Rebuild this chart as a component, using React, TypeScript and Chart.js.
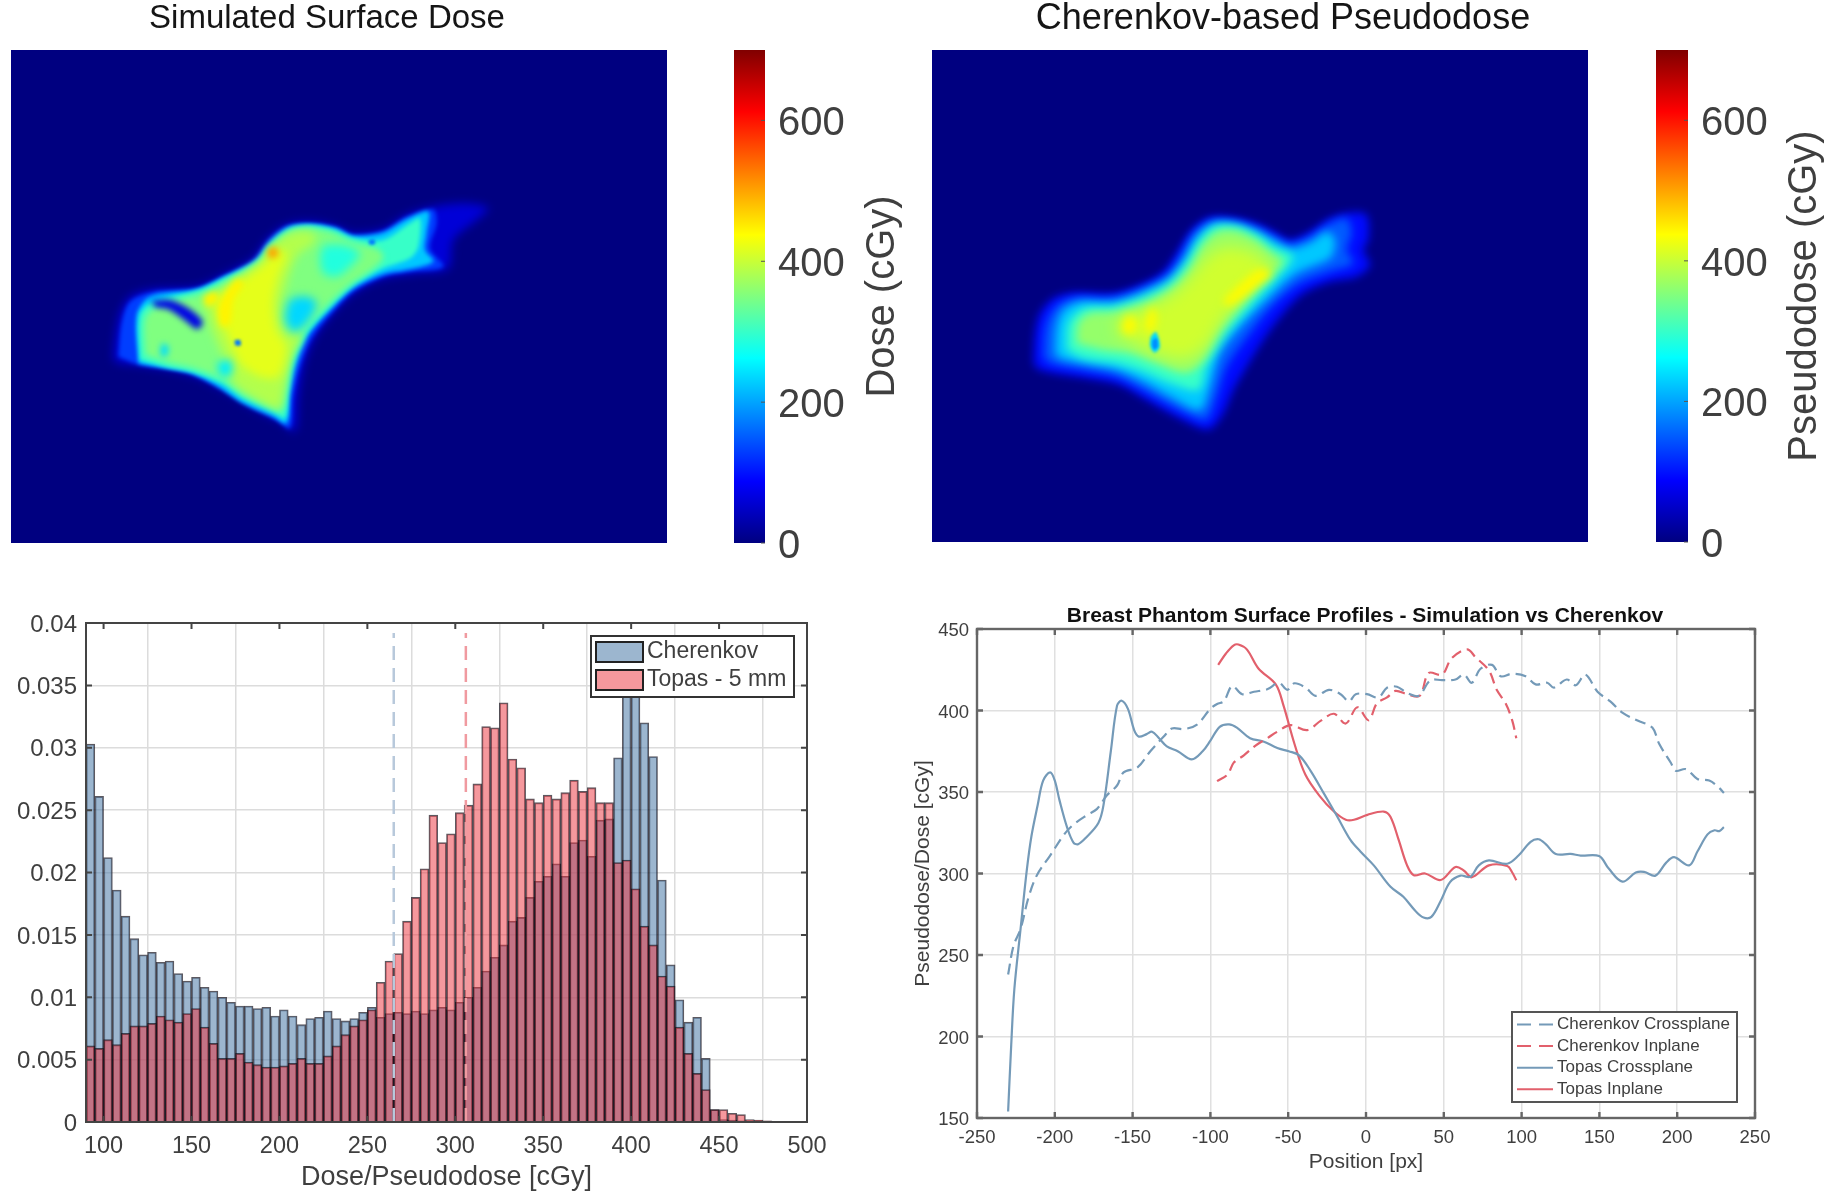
import React, { useEffect, useRef } from "react";
import { Chart, registerables } from "chart.js";

Chart.register(...registerables);

const FONT = "'Liberation Sans', Arial, sans-serif";
const TEXT = "#3f3f3f";

// ---------- histogram ----------
const binStart = 90;
const binWidth = 5;
const cherenkovHist = [
  0.0303, 0.0261, 0.0212, 0.0186, 0.0165, 0.0147, 0.0134, 0.0136, 0.0128, 0.0129, 0.0119, 0.0113, 0.0116, 0.0108,
  0.0105, 0.01, 0.0096, 0.0093, 0.0093, 0.0091, 0.0092, 0.0085, 0.009, 0.0085, 0.0078, 0.0083, 0.0084, 0.0089, 0.0083,
  0.0081, 0.0083, 0.0088, 0.0092, 0.0084, 0.0087, 0.0088, 0.0087, 0.0089, 0.0087, 0.009, 0.0092, 0.009, 0.0096, 0.01,
  0.0108, 0.0121, 0.0132, 0.0142, 0.0161, 0.0164, 0.018, 0.0193, 0.0197, 0.0207, 0.0197, 0.0224, 0.0226, 0.0213,
  0.0242, 0.0243, 0.0292, 0.0375, 0.036, 0.032, 0.0293, 0.0194, 0.0126, 0.0098, 0.008, 0.0084, 0.0051, 0.001, 0.0002,
  0.00015, 0.0001,
];
const topasHist = [
  0.0061, 0.0059, 0.0066, 0.0062, 0.0071, 0.0077, 0.0077, 0.0079, 0.0085, 0.0082, 0.008, 0.0087, 0.0091, 0.0076,
  0.0063, 0.0051, 0.0051, 0.0055, 0.0048, 0.0046, 0.0044, 0.0044, 0.0045, 0.0047, 0.0051, 0.0047, 0.0047, 0.0053,
  0.0061, 0.007, 0.0077, 0.0082, 0.009, 0.0112, 0.0129, 0.0135, 0.0161, 0.018, 0.0203, 0.0246, 0.0224, 0.0231, 0.0248,
  0.0254, 0.0271, 0.0317, 0.0316, 0.0336, 0.0291, 0.0284, 0.0259, 0.0256, 0.0262, 0.0259, 0.0264, 0.0274, 0.0265,
  0.0268, 0.0256, 0.0256, 0.0208, 0.021, 0.0187, 0.0157, 0.0142, 0.0117, 0.0109, 0.0076, 0.0055, 0.0039, 0.0026, 0.001,
  0.001, 0.0007, 0.0006, 0.0002, 0.00015, 0.0001, 0.00005,
];
const cherenkovMean = 265;
const topasMean = 306;
const meanLineTop = 0.0392;

// ---------- profiles: [position, value] ----------
const topasCross: number[][] = [
  [-230, 154], [-228, 195], [-226, 229], [-222, 266], [-218, 302], [-215, 323], [-211, 342], [-207.5, 357], [-203, 362],
  [-200, 357], [-197, 345], [-192, 328], [-188, 319], [-185, 318], [-180, 322], [-172, 331], [-168.7, 342], [-164, 375],
  [-160, 403], [-157, 406], [-153, 401], [-149, 388], [-146, 384], [-141, 385.5], [-137.5, 387], [-133, 383], [-128, 378],
  [-121, 375], [-112, 370], [-105, 375], [-100, 381.5], [-94, 390], [-88, 391.5], [-83, 389.5], [-74.5, 383], [-66, 381],
  [-57, 377], [-49.6, 375], [-43, 372.5], [-35.6, 363], [-27, 349], [-18.5, 335], [-10, 320.6], [-3.6, 313.5], [5, 305],
  [15.6, 292], [24, 285.7], [31.8, 277], [37, 273], [42, 273.4], [47.9, 283], [54, 294.7], [60.7, 298.7], [67, 298],
  [72.5, 305], [79, 308], [90.8, 306], [98, 311], [105.8, 319.4], [111, 321], [115.5, 318], [122, 312], [131.5, 312],
  [138, 311], [149.8, 310.7], [156, 303], [164.8, 295], [173.4, 300.6], [178.7, 301], [186, 298.7], [192.8, 306.5],
  [198, 310], [207.7, 305], [213, 313.5], [219.5, 324], [224, 326.5], [227, 326], [230, 328.4],
];
const topasIn: number[][] = [
  [-95, 428], [-90, 435], [-85, 440], [-82, 440.5], [-76.6, 437.5], [-69, 425.6], [-58, 416], [-53, 403], [-46, 379.6],
  [-39, 360.7], [-30, 347.8], [-20.6, 338], [-13, 333], [-7.7, 333], [0.9, 336], [11.4, 338], [15.7, 334.8], [21, 320.6],
  [26.4, 305], [30.7, 299], [38, 300], [48, 296], [57.5, 304], [63, 301.7], [68, 297.7], [79, 305], [90.8, 304.6],
  [94, 300.6], [96.6, 295.8],
];
const cherenkovCross: number[][] = [
  [-230, 238], [-226.5, 255.7], [-222, 266], [-217, 285], [-211.5, 299], [-203, 311], [-194, 324], [-188, 330], [-179, 336],
  [-173, 339.5], [-166.5, 348], [-160, 354], [-155.8, 362], [-147, 365], [-138.6, 375], [-130, 384], [-124.7, 389],
  [-117, 388.6], [-108.6, 391.4], [-100, 401], [-95.7, 404], [-91.4, 405.6], [-86, 415], [-79.6, 410], [-72, 411.5],
  [-63.5, 413], [-56, 417], [-50.6, 412.7], [-46, 416.7], [-38.8, 414], [-32.4, 409], [-23.8, 412.6], [-16.3, 410],
  [-11, 405.6], [-6.6, 410], [0.6, 410], [8, 408], [13.5, 414], [19.9, 414.6], [26.4, 410.8], [33.9, 409], [41.4, 418.6],
  [48.9, 418.6], [57.5, 419], [62.9, 422], [68, 417], [73.6, 425.6], [81, 428], [86.5, 421], [94, 422.6], [102.6, 421],
  [109, 416], [116.5, 417], [120.8, 414], [129, 419], [134.8, 415.5], [141, 422], [148.8, 411.5], [157, 405.6], [165, 398.5],
  [174.5, 393.8], [184, 389.5], [188.4, 379.6], [196, 367.8], [199, 363], [205.7, 364], [213, 358], [220.6, 357],
  [227, 352.5], [230, 349.4],
];
const cherenkovIn: number[][] = [
  [-95.7, 356.7], [-89, 360.7], [-85, 368], [-78.5, 372.5], [-71, 378.5], [-63.5, 383], [-57, 387], [-48.5, 391], [-37.8, 388],
  [-29, 393.8], [-20.6, 398], [-13, 392], [-5.6, 402], [1.7, 394], [7, 404.4], [13.5, 408], [18.9, 412], [26.4, 410],
  [34.5, 409], [40.3, 423], [48.9, 422], [55, 432], [64.9, 437.5], [70.4, 432.7], [79, 424.5], [84, 412.7], [89.7, 404.4],
  [94, 393.8], [96.6, 383],
];

// ---------- dose maps: contour layers, [dose, outline, softness] ----------
type Layer = [number, number[][], number?];
const surfaceLayers: Layer[] = [
  [60, [[70,510],[75,450],[90,370],[120,320],[190,298],[320,290],[400,255],[490,205],[530,150],[590,105],[660,95],[740,110],[790,130],[880,118],[950,75],[1030,50],[1130,40],[1195,55],[1160,90],[1090,150],[1075,235],[980,250],[880,265],[790,310],[720,380],[670,450],[640,530],[625,620],[615,725],[570,695],[480,650],[400,600],[320,560],[240,540],[140,525],[90,520]], 5],
  [130, [[85,500],[95,400],[120,335],[190,305],[320,295],[400,258],[490,210],[535,150],[590,108],[660,100],[740,112],[790,135],[880,122],[950,80],[1030,58],[1040,100],[1020,175],[1060,230],[960,245],[880,260],[790,305],[720,375],[665,445],[630,530],[610,620],[600,715],[560,690],[470,645],[390,595],[310,555],[230,535],[150,525]], 2],
  [225, [[145,520],[140,375],[180,320],[320,298],[400,262],[495,212],[540,155],[595,112],[660,103],[735,115],[790,138],[880,128],[950,88],[1015,65],[1010,130],[1005,180],[1030,215],[955,238],[880,252],[790,295],[715,365],[655,435],[620,520],[600,610],[590,700],[550,680],[460,640],[385,590],[305,550],[225,535]], 2],
  [300, [[150,510],[150,375],[190,335],[330,300],[410,262],[500,215],[545,160],[600,118],[660,108],[730,120],[790,145],[880,150],[960,100],[990,85],[985,170],[960,205],[880,235],[790,285],[715,355],[650,430],[610,520],[595,610],[585,685],[550,665],[460,625],[395,580],[305,545],[230,530]], 2],
  [350, [[165,495],[165,385],[200,350],[335,310],[415,272],[505,222],[550,168],[602,125],[660,115],[728,128],[785,155],[865,178],[880,205],[845,240],[785,280],[708,350],[642,425],[600,515],[585,605],[572,665],[545,650],[462,612],[400,570],[310,535],[235,518]], 3],
  [385, [[345,335],[440,265],[510,215],[548,165],[600,130],[660,125],[680,150],[620,200],[585,300],[570,370],[590,430],[635,435],[605,500],[582,600],[565,655],[480,615],[430,575],[410,520],[370,430],[355,380]], 5],
  [420, [[375,330],[450,275],[520,225],[560,180],[590,190],[565,260],[550,340],[560,420],[590,470],[565,560],[510,560],[450,520],[420,450],[395,400]], 5],
  [445, [[400,320],[440,268],[462,280],[430,330],[420,400],[395,410],[385,360]], 3],
  [445, [[340,320],[375,305],[385,330],[350,350]], 3],
  [500, [[530,180],[555,170],[565,195],[540,205]], 3],
  [235, [[585,390],[600,330],[650,320],[680,340],[650,400],[610,425]], 5],
  [285, [[700,165],[760,165],[810,190],[780,230],[740,260],[700,250],[690,200]], 5],
  [250, [[380,520],[420,510],[425,550],[395,560]], 4],
  [240, [[215,460],[235,470],[228,500],[212,495]], 3],
  [70, [[185,332],[240,330],[295,355],[338,395],[322,418],[283,390],[235,358],[195,350]], 3],
  [170, [[836,150],[852,148],[855,162],[838,163]], 1.5],
  [170, [[434,450],[450,450],[452,466],[436,466]], 1.5],
];
const cherenkovLayers: Layer[] = [
  [95, [[70,515],[75,430],[90,370],[130,325],[190,308],[310,310],[390,285],[460,245],[500,190],[545,120],[600,82],[680,85],[750,105],[800,130],[840,150],[900,125],[960,85],[1020,68],[1070,75],[1075,150],[1060,180],[1080,225],[1040,260],[960,275],[880,310],[820,370],[760,450],[710,530],[670,600],[640,670],[600,718],[560,710],[480,670],[410,630],[330,585],[230,565],[130,550],[80,535]]],
  [150, [[100,500],[105,420],[120,375],[150,340],[200,322],[310,322],[395,295],[470,255],[510,200],[550,130],[605,92],[680,95],[745,115],[800,145],[840,162],[900,140],[960,100],[1010,85],[1025,130],[1010,180],[1030,220],[960,245],[870,280],[790,345],[720,430],[650,530],[620,620],[590,690],[550,680],[470,640],[400,600],[320,560],[220,540],[120,520]]],
  [225, [[135,490],[140,410],[160,360],[210,335],[310,335],[400,305],[475,265],[520,210],[560,140],[610,100],[680,102],[745,125],[800,155],[845,175],[905,155],[950,125],[975,150],[965,200],[940,215],[860,250],[780,320],[700,400],[630,490],[600,590],[570,660],[480,620],[400,575],[320,540],[220,520],[150,505]]],
  [300, [[170,480],[175,400],[220,355],[310,350],[405,320],[480,280],[530,220],[570,150],[615,110],[680,110],[740,135],[790,170],[850,200],[800,265],[720,350],[640,440],[590,530],[565,600],[480,580],[400,545],[320,520],[220,505]]],
  [365, [[200,460],[205,400],[240,370],[320,365],[410,340],[490,295],[540,240],[575,170],[620,125],[680,122],[735,148],[780,185],[820,215],[770,265],[700,340],[620,430],[580,510],[530,550],[440,520],[360,490],[280,480]]],
  [405, [[320,430],[330,385],[410,355],[490,310],[540,260],[590,200],[640,170],[700,175],[760,205],[780,235],[720,290],[640,390],[590,470],[520,510],[440,490],[380,460]], 8],
  [440, [[640,330],[690,280],[750,235],[785,250],[740,290],[690,330],[650,350]]],
  [440, [[335,410],[355,375],[380,395],[370,430],[345,430]]],
  [440, [[405,400],[425,350],[440,375],[430,420],[410,425]]],
  [235, [[422,440],[438,426],[450,470],[434,488],[420,468]], 1.5],
  [185, [[428,450],[440,445],[443,470],[432,478],[427,465]], 1],
];
const doseTicks = [0, 200, 400, 600];
const doseMax = 700;

// ---------- helpers ----------
const jetStops: [number, number[]][] = [
  [0, [0, 0, 128]], [0.125, [0, 0, 255]], [0.375, [0, 255, 255]], [0.625, [255, 255, 0]], [0.875, [255, 0, 0]], [1, [128, 0, 0]],
];
function jet(t: number) {
  for (let i = 1; i < jetStops.length; i++) {
    const [a, ca] = jetStops[i - 1];
    const [b, cb] = jetStops[i];
    if (t <= b) {
      const f = (t - a) / (b - a);
      return `rgb(${ca.map((c, k) => Math.round(c + (cb[k] - c) * f)).join(",")})`;
    }
  }
  return "rgb(128,0,0)";
}

function framePlugin(color: string, lineWidth: number, tick: number) {
  return {
    id: "frame",
    afterDatasetsDraw(chart: any) {
      const { ctx, chartArea: a, scales } = chart;
      ctx.save();
      ctx.strokeStyle = color;
      ctx.lineWidth = lineWidth;
      ctx.strokeRect(a.left, a.top, a.right - a.left, a.bottom - a.top);
      ctx.beginPath();
      for (const t of scales.x.ticks) {
        const x = scales.x.getPixelForValue(t.value);
        ctx.moveTo(x, a.bottom); ctx.lineTo(x, a.bottom - tick);
        ctx.moveTo(x, a.top); ctx.lineTo(x, a.top + tick);
      }
      for (const t of scales.y.ticks) {
        const y = scales.y.getPixelForValue(t.value);
        ctx.moveTo(a.left, y); ctx.lineTo(a.left + tick, y);
        ctx.moveTo(a.right, y); ctx.lineTo(a.right - tick, y);
      }
      ctx.stroke();
      ctx.restore();
    },
  };
}

function titlePlugin(text: string, cx: number, cy: number, font: string, color: string) {
  return {
    id: "panelTitle",
    afterDraw(chart: any) {
      const { ctx } = chart;
      ctx.save();
      ctx.fillStyle = color;
      ctx.font = font;
      ctx.textAlign = "center";
      ctx.textBaseline = "middle";
      ctx.fillText(text, cx, cy);
      ctx.restore();
    },
  };
}

function HistogramChart() {
  const ref = useRef<HTMLCanvasElement>(null);
  useEffect(() => {
    const centers = (vals: number[]) => vals.map((y, i) => ({ x: binStart + binWidth * (i + 0.5), y }));
    const legendPlugin = {
      id: "floatLegend",
      afterDraw(chart: any) {
        const { ctx } = chart;
        const a = chart.chartArea;
        const x0 = a.right - 216, y0 = a.top + 13, w = 203, h = 61;
        ctx.save();
        ctx.fillStyle = "#fff";
        ctx.strokeStyle = "#333";
        ctx.lineWidth = 2;
        ctx.fillRect(x0, y0, w, h);
        ctx.strokeRect(x0, y0, w, h);
        const rows = [chart.data.datasets[1], chart.data.datasets[0]];
        rows.forEach((d: any, i: number) => {
          const sy = y0 + 6 + i * 28;
          ctx.fillStyle = d.backgroundColor;
          ctx.fillRect(x0 + 5, sy, 47, 20);
          ctx.strokeStyle = "#222";
          ctx.strokeRect(x0 + 5, sy, 47, 20);
          ctx.fillStyle = TEXT;
          ctx.font = `23px ${FONT}`;
          ctx.textBaseline = "middle";
          ctx.fillText(d.label, x0 + 56, sy + 10);
        });
        ctx.restore();
      },
    };
    const bar = {
      grouped: false, barPercentage: 1, categoryPercentage: 1, borderWidth: 1.2, borderColor: "rgba(15,10,20,0.68)",
    };
    const chart = new Chart(ref.current!, {
      type: "bar",
      data: {
        datasets: [
          { ...bar, label: "Topas - 5 mm", data: centers(topasHist), backgroundColor: "rgba(236,50,60,0.5)", order: 2 } as any,
          { ...bar, label: "Cherenkov", data: centers(cherenkovHist), backgroundColor: "rgba(85,130,172,0.58)", order: 3 } as any,
          {
            type: "line", label: "Cherenkov mean", data: [{ x: cherenkovMean, y: 0 }, { x: cherenkovMean, y: meanLineTop }],
            borderColor: "#b8c9db", borderWidth: 2.5, borderDash: [14, 8], pointRadius: 0, order: 1,
          } as any,
          {
            type: "line", label: "Topas mean", data: [{ x: topasMean, y: 0 }, { x: topasMean, y: meanLineTop }],
            borderColor: "#f09aa0", borderWidth: 2.5, borderDash: [14, 8], pointRadius: 0, order: 1,
          } as any,
        ],
      },
      options: {
        animation: false, responsive: false, devicePixelRatio: 1,
        layout: { padding: { top: 33, right: 73, left: 0, bottom: 0 } },
        plugins: { legend: { display: false }, tooltip: { enabled: false } },
        scales: {
          x: {
            type: "linear", min: 90, max: 500, offset: false,
            afterFit: (s: any) => { s.height = 71; },
            grid: { color: "#dcdcdc", lineWidth: 1.5, drawTicks: false },
            border: { display: false },
            ticks: { stepSize: 50, includeBounds: false, autoSkip: false, maxRotation: 0, padding: 10, color: TEXT, font: { family: FONT, size: 23.5 } },
            title: { display: true, text: "Dose/Pseudodose [cGy]", color: TEXT, padding: { top: 0, bottom: -1 }, font: { family: FONT, size: 27 } },
          },
          y: {
            min: 0, max: 0.04,
            afterFit: (s: any) => { s.width = 86; },
            grid: { color: "#dcdcdc", lineWidth: 1.5, drawTicks: false },
            border: { display: false },
            ticks: { stepSize: 0.005, padding: 9, labelOffset: 2, color: TEXT, font: { family: FONT, size: 24 }, callback: (v: any) => String(Number(Number(v).toFixed(3))) },
          },
        },
      } as any,
      plugins: [framePlugin("#444", 2, 6), legendPlugin],
    });
    return () => chart.destroy();
  }, []);
  return <canvas ref={ref} width={880} height={603} style={{ position: "absolute", left: 0, top: 590, filter: "blur(0.6px)" }} />;
}

function ProfileChart() {
  const ref = useRef<HTMLCanvasElement>(null);
  useEffect(() => {
    const pts = (a: number[][]) => a.map(([x, y]) => ({ x, y }));
    const line = { pointRadius: 0, borderWidth: 2.2, tension: 0.35, showLine: true, fill: false };
    const blue = "#749ab8", red = "#e2606c";
    const legendPlugin = {
      id: "floatLegend",
      afterDraw(chart: any) {
        const { ctx } = chart;
        const a = chart.chartArea;
        const x0 = a.right - 243, y0 = a.bottom - 106, w = 225, h = 90;
        ctx.save();
        ctx.fillStyle = "#fff";
        ctx.strokeStyle = "#555";
        ctx.lineWidth = 2;
        ctx.fillRect(x0, y0, w, h);
        ctx.strokeRect(x0, y0, w, h);
        chart.data.datasets.forEach((d: any, i: number) => {
          const y = y0 + 12.5 + i * 21.6;
          ctx.strokeStyle = d.borderColor;
          ctx.lineWidth = 2;
          ctx.setLineDash(d.borderDash ? [14, 8] : []);
          ctx.beginPath();
          ctx.moveTo(x0 + 5, y);
          ctx.lineTo(x0 + 41, y);
          ctx.stroke();
          ctx.setLineDash([]);
          ctx.fillStyle = TEXT;
          ctx.font = `17px ${FONT}`;
          ctx.textBaseline = "middle";
          ctx.fillText(d.label, x0 + 45, y);
        });
        ctx.restore();
      },
    };
    const chart = new Chart(ref.current!, {
      type: "scatter",
      data: {
        datasets: [
          { ...line, label: "Cherenkov Crossplane", data: pts(cherenkovCross), borderColor: blue, borderDash: [11, 6] },
          { ...line, label: "Cherenkov Inplane", data: pts(cherenkovIn), borderColor: red, borderDash: [11, 6] },
          { ...line, label: "Topas Crossplane", data: pts(topasCross), borderColor: blue },
          { ...line, label: "Topas Inplane", data: pts(topasIn), borderColor: red },
        ],
      },
      options: {
        animation: false, responsive: false, devicePixelRatio: 1,
        layout: { padding: { top: 39, right: 72, left: 0, bottom: 0 } },
        plugins: { legend: { display: false }, tooltip: { enabled: false } },
        scales: {
          x: {
            type: "linear", min: -250, max: 250,
            afterFit: (s: any) => { s.height = 75; },
            grid: { color: "#e0e0e0", lineWidth: 1.5, drawTicks: false },
            border: { display: false },
            ticks: { stepSize: 50, autoSkip: false, maxRotation: 0, padding: 9, color: TEXT, font: { family: FONT, size: 18.5 } },
            title: { display: true, text: "Position [px]", color: TEXT, padding: { bottom: 18, top: 0 }, font: { family: FONT, size: 21 } },
          },
          y: {
            min: 150, max: 450,
            afterFit: (s: any) => { s.width = 72; },
            grid: { color: "#e0e0e0", lineWidth: 1.5, drawTicks: false },
            border: { display: false },
            ticks: { stepSize: 50, padding: 8, labelOffset: 2, color: TEXT, font: { family: FONT, size: 18.5 } },
            title: { display: true, text: "Pseudodose/Dose [cGy]", color: TEXT, padding: { top: 6, bottom: 0 }, font: { family: FONT, size: 21 } },
          },
        },
      } as any,
      plugins: [
        framePlugin("#666", 2.4, 6),
        legendPlugin,
        titlePlugin("Breast Phantom Surface Profiles - Simulation vs Cherenkov", 460, 26, `bold 21px ${FONT}`, "#111"),
      ],
    });
    return () => chart.destroy();
  }, []);
  return <canvas ref={ref} width={922} height={603} style={{ position: "absolute", left: 905, top: 590, filter: "blur(0.6px)" }} />;
}

function DoseMap(props: {
  title: string; layers: Layer[]; left: number; width: number; padLeft: number; padRight: number; padBottom: number;
  xMin: number; xMax: number; yMin: number; yMax: number; blur: number; titleX: number; titleSize: number;
}) {
  const ref = useRef<HTMLCanvasElement>(null);
  useEffect(() => {
    const softOf = (i: number) => props.layers[i]?.[2] ?? props.blur;
    const softPlugin = {
      id: "soft",
      beforeDatasetsDraw(chart: any) {
        const { ctx, chartArea: a } = chart;
        ctx.fillStyle = jet(0);
        ctx.fillRect(a.left, a.top, a.right - a.left, a.bottom - a.top);
        ctx.filter = `blur(${softOf(0)}px)`;
      },
      afterDatasetDraw(chart: any, args: any) {
        chart.ctx.filter = `blur(${softOf(args.index + 1)}px)`;
      },
      afterDatasetsDraw(chart: any) {
        chart.ctx.filter = "none";
      },
    };
    const chart = new Chart(ref.current!, {
      type: "scatter",
      data: {
        datasets: props.layers.map(([dose, outline], i) => ({
          label: `${dose} cGy`,
          data: [...outline, outline[0]].map(([x, y]) => ({ x, y })),
          showLine: true, fill: "shape", tension: 0.3, pointRadius: 0, borderWidth: 0,
          backgroundColor: jet(dose / doseMax), borderColor: jet(dose / doseMax),
          order: props.layers.length - i,
        })),
      },
      options: {
        animation: false, responsive: false, devicePixelRatio: 1,
        layout: { padding: { top: 50, left: props.padLeft, right: props.padRight, bottom: props.padBottom } },
        plugins: { legend: { display: false }, tooltip: { enabled: false } },
        scales: {
          x: { type: "linear", display: false, min: props.xMin, max: props.xMax },
          y: { type: "linear", display: false, reverse: true, min: props.yMin, max: props.yMax },
        },
      } as any,
      plugins: [softPlugin, titlePlugin(props.title, props.titleX, 19, `${props.titleSize}px ${FONT}`, "#151515")],
    });
    return () => chart.destroy();
  }, []);
  return <canvas ref={ref} width={props.width} height={560} style={{ position: "absolute", left: props.left, top: 0, filter: "blur(0.5px)" }} />;
}

function ColorBar(props: { label: string; left: number; width: number; padLeft: number; axisWidth: number; padBottom: number; labelOffset: number }) {
  const ref = useRef<HTMLCanvasElement>(null);
  useEffect(() => {
    const barPlugin = {
      id: "barDecor",
      afterDraw(chart: any) {
        const { ctx, chartArea: a, scales } = chart;
        ctx.save();
        ctx.strokeStyle = "#555";
        ctx.lineWidth = 1;
        ctx.beginPath();
        for (const t of scales.y.ticks) {
          const y = scales.y.getPixelForValue(t.value);
          ctx.moveTo(a.right, y);
          ctx.lineTo(a.right - 4, y);
        }
        ctx.stroke();
        ctx.translate(a.right + props.labelOffset, (a.top + a.bottom) / 2);
        ctx.rotate(-Math.PI / 2);
        ctx.fillStyle = TEXT;
        ctx.font = `40px ${FONT}`;
        ctx.textAlign = "center";
        ctx.textBaseline = "middle";
        ctx.fillText(props.label, 0, 0);
        ctx.restore();
      },
    };
    const chart = new Chart(ref.current!, {
      type: "bar",
      data: {
        labels: [props.label],
        datasets: [{
          label: props.label,
          data: [[0, doseMax]],
          barPercentage: 1, categoryPercentage: 1, borderWidth: 0,
          backgroundColor: (c: any) => {
            const a = c.chart.chartArea;
            if (!a) return jet(0.5);
            const g = c.chart.ctx.createLinearGradient(0, a.bottom, 0, a.top);
            jetStops.forEach(([t, rgb]) => g.addColorStop(t, `rgb(${rgb.join(",")})`));
            return g;
          },
        } as any],
      },
      options: {
        animation: false, responsive: false, devicePixelRatio: 1,
        layout: { padding: { top: 50, left: props.padLeft, right: 0, bottom: props.padBottom } },
        plugins: { legend: { display: false }, tooltip: { enabled: false } },
        scales: {
          x: { display: false },
          y: {
            position: "right", min: 0, max: doseMax,
            afterBuildTicks: (s: any) => { s.ticks = doseTicks.map((value) => ({ value })); },
            afterFit: (s: any) => { s.width = props.axisWidth; },
            grid: { display: false },
            border: { display: false },
            ticks: { padding: 5, labelOffset: 4, color: TEXT, font: { family: FONT, size: 40 } },
          },
        },
      } as any,
      plugins: [barPlugin],
    });
    return () => chart.destroy();
  }, []);
  return <canvas ref={ref} width={props.width} height={600} style={{ position: "absolute", left: props.left, top: 0, filter: "blur(0.5px)" }} />;
}

export default function App() {
  return (
    <div style={{ position: "absolute", left: 0, top: 0, width: 1827, height: 1193, overflow: "hidden", background: "#fff" }}>
      <DoseMap title="Simulated Surface Dose" layers={surfaceLayers} left={0} width={690} padLeft={11} padRight={23} padBottom={17}
        xMin={-237} xMax={1731} yMin={-420} yMax={1059} blur={2.5} titleX={327} titleSize={33} />
      <ColorBar label="Dose (cGy)" left={720} width={200} padLeft={14} axisWidth={155} padBottom={57} labelOffset={118} />
      <DoseMap title="Cherenkov-based Pseudodose" layers={cherenkovLayers} left={880} width={806} padLeft={52} padRight={98} padBottom={18}
        xMin={-234} xMax={1734} yMin={-420} yMax={1056} blur={4} titleX={403} titleSize={36} />
      <ColorBar label="Pseudodose (cGy)" left={1640} width={187} padLeft={16} axisWidth={139} padBottom={58} labelOffset={117} />
      <HistogramChart />
      <ProfileChart />
    </div>
  );
}
